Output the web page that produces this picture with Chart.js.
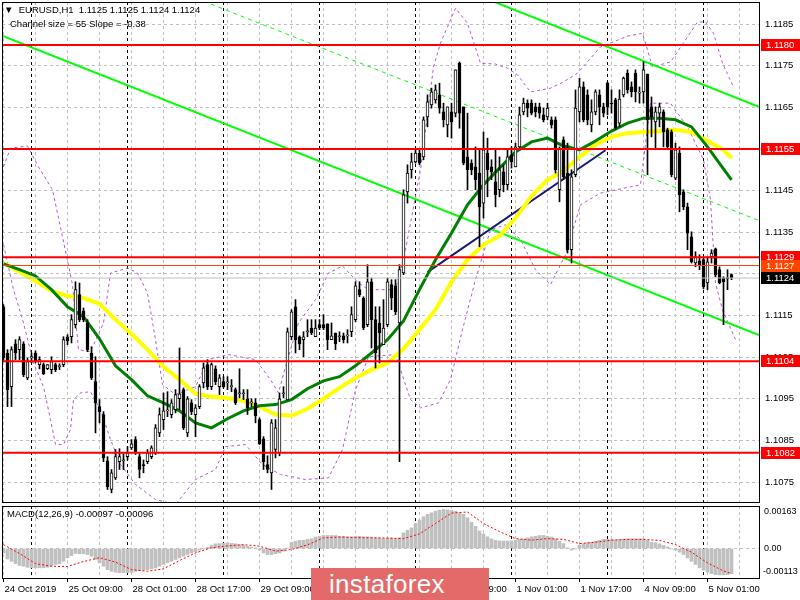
<!DOCTYPE html>
<html>
<head>
<meta charset="utf-8">
<title>EURUSD H1</title>
<script src="https://cdn.jsdelivr.net/npm/chart.js@4.4.0/dist/chart.umd.min.js"></script>
<style>
  body { margin: 0; width: 800px; height: 600px; position: relative; overflow: hidden; background: #fff; font-family: 'Liberation Sans', Arial, sans-serif; }
  canvas { position: absolute; left: 0; }
  #main { top: 0; }
  #macd { top: 490px; }
  .txt { position: absolute; font-size: 9.5px; color: #000; white-space: pre; line-height: 12px; }
  #logo { position: absolute; left: 311px; top: 568px; width: 178px; height: 32px; background: #e46a6a; color: #fff;
          font-size: 26px; line-height: 32px; padding-left: 18px; box-sizing: border-box; letter-spacing: 0.3px; }
</style>
</head>
<body>
<canvas id="main" width="800" height="505"></canvas>
<canvas id="macd" width="800" height="110"></canvas>
<div class="txt" style="left:4px;top:4px">▼  EURUSD,H1  1.1125 1.1125 1.1124 1.1124</div>
<div class="txt" style="left:10px;top:18px">Channel size = 55 Slope = -0.38</div>
<div class="txt" style="left:7px;top:508px">MACD(12,26,9) -0.00097 -0.00096</div>
<div id="logo">instaforex</div>
<script>
// time axis: bar 0 = 24 Oct 17:00, one bar per hour (weekend skipped)
const labelBars = [0, 16, 32, 48, 64, 80, 96, 112, 128, 144, 160, 176];
const labelTexts = ['24 Oct 2019', '25 Oct 09:00', '28 Oct 01:00', '28 Oct 17:00', '29 Oct 09:00', '30 Oct 01:00',
  '30 Oct 17:00', '31 Oct 09:00', '1 Nov 01:00', '1 Nov 17:00', '4 Nov 09:00', '5 Nov 01:00'];
const dayStartBars = [7, 31, 55, 79, 103, 127, 151, 175];
const priceTicks = [1.1075, 1.1085, 1.1095, 1.1105, 1.1115, 1.1125, 1.1135, 1.1145, 1.1155, 1.1165, 1.1175, 1.1185];
const macdTicks = [-0.00113, 0, 0.00163];

const open = [
  1.11171, 1.11060, 1.10979, 1.11082, 1.11068, 1.11082, 1.11000, 1.11048, 1.11060, 1.11032,
  1.11032, 1.11022, 1.11020, 1.11032, 1.11027, 1.11032, 1.11099, 1.11099, 1.11128, 1.11200,
  1.11161, 1.11132, 1.11060, 1.10991, 1.10931, 1.10912, 1.10801, 1.10732, 1.10760, 1.10799,
  1.10801, 1.10811, 1.10832, 1.10852, 1.10811, 1.10792, 1.10799, 1.10811, 1.10820, 1.10868,
  1.10900, 1.10921, 1.10912, 1.10924, 1.10950, 1.10972, 1.10868, 1.10940, 1.10912, 1.10931,
  1.10988, 1.11032, 1.10979, 1.11022, 1.10979, 1.10991, 1.10988, 1.10979, 1.10972, 1.10962,
  1.10962, 1.10950, 1.10940, 1.10940, 1.10900, 1.10854, 1.10792, 1.10772, 1.10828, 1.10820,
  1.10962, 1.10947, 1.11099, 1.11171, 1.11099, 1.11092, 1.11111, 1.11120, 1.11099, 1.11128,
  1.11128, 1.11130, 1.11092, 1.11108, 1.11099, 1.11101, 1.11101, 1.11111, 1.11140, 1.11212,
  1.11192, 1.11128, 1.11231, 1.11140, 1.11132, 1.11080, 1.11128, 1.11224, 1.11221, 1.11132,
  1.11252, 1.11447, 1.11500, 1.11519, 1.11540, 1.11531, 1.11627, 1.11656, 1.11668, 1.11680,
  1.11639, 1.11608, 1.11639, 1.11636, 1.11756, 1.11651, 1.11531, 1.11516, 1.11507, 1.11492,
  1.11420, 1.11540, 1.11507, 1.11471, 1.11452, 1.11495, 1.11464, 1.11536, 1.11507, 1.11555,
  1.11639, 1.11660, 1.11660, 1.11651, 1.11651, 1.11632, 1.11627, 1.11620, 1.11620, 1.11452,
  1.11572, 1.11492, 1.11308, 1.11488, 1.11639, 1.11699, 1.11680, 1.11608, 1.11639, 1.11680,
  1.11651, 1.11708, 1.11660, 1.11668, 1.11612, 1.11680, 1.11732, 1.11699, 1.11732, 1.11684,
  1.11687, 1.11730, 1.11651, 1.11615, 1.11636, 1.11639, 1.11596, 1.11591, 1.11480, 1.11540,
  1.11447, 1.11411, 1.11339, 1.11276, 1.11281, 1.11284, 1.11228, 1.11291, 1.11310, 1.11260,
  1.11240, 1.11240, 1.11248
];
const high = [
  1.11176, 1.11068, 1.11075, 1.11092, 1.11099, 1.11087, 1.11048, 1.11060, 1.11065, 1.11051,
  1.11036, 1.11032, 1.11051, 1.11036, 1.11034, 1.11099, 1.11104, 1.11152, 1.11231, 1.11228,
  1.11168, 1.11140, 1.11075, 1.11051, 1.10948, 1.10919, 1.10811, 1.10780, 1.10828, 1.10830,
  1.10820, 1.10835, 1.10852, 1.10859, 1.10820, 1.10803, 1.10828, 1.10837, 1.10888, 1.10928,
  1.10964, 1.10967, 1.10948, 1.10972, 1.11072, 1.10976, 1.10955, 1.10948, 1.10936, 1.10984,
  1.11036, 1.11044, 1.11036, 1.11029, 1.11008, 1.11003, 1.11003, 1.10996, 1.10976, 1.11022,
  1.10972, 1.10972, 1.10950, 1.10950, 1.10904, 1.10859, 1.10813, 1.10900, 1.10900, 1.10964,
  1.10979, 1.11120, 1.11164, 1.11188, 1.11101, 1.11111, 1.11140, 1.11140, 1.11140, 1.11140,
  1.11152, 1.11130, 1.11132, 1.11108, 1.11111, 1.11108, 1.11116, 1.11171, 1.11231, 1.11231,
  1.11195, 1.11272, 1.11240, 1.11171, 1.11171, 1.11188, 1.11240, 1.11236, 1.11236, 1.11272,
  1.11452, 1.11512, 1.11540, 1.11552, 1.11548, 1.11627, 1.11680, 1.11696, 1.11704, 1.11708,
  1.11660, 1.11651, 1.11660, 1.11740, 1.11759, 1.11651, 1.11636, 1.11524, 1.11555, 1.11548,
  1.11591, 1.11576, 1.11524, 1.11548, 1.11531, 1.11512, 1.11548, 1.11555, 1.11564, 1.11651,
  1.11672, 1.11668, 1.11668, 1.11660, 1.11660, 1.11648, 1.11660, 1.11627, 1.11627, 1.11555,
  1.11579, 1.11564, 1.11500, 1.11692, 1.11720, 1.11711, 1.11692, 1.11668, 1.11692, 1.11692,
  1.11660, 1.11711, 1.11692, 1.11672, 1.11692, 1.11723, 1.11740, 1.11711, 1.11740, 1.11699,
  1.11759, 1.11730, 1.11675, 1.11651, 1.11660, 1.11644, 1.11600, 1.11596, 1.11564, 1.11555,
  1.11452, 1.11420, 1.11351, 1.11303, 1.11296, 1.11288, 1.11291, 1.11308, 1.11312, 1.11267,
  1.11243, 1.11260, 1.11250
];
const low = [
  1.11039, 1.10931, 1.10931, 1.11044, 1.11044, 1.11003, 1.10996, 1.11036, 1.11036, 1.11022,
  1.11008, 1.11020, 1.11010, 1.11015, 1.11020, 1.11027, 1.11080, 1.11084, 1.11120, 1.11135,
  1.11135, 1.11063, 1.10996, 1.10868, 1.10892, 1.10799, 1.10732, 1.10724, 1.10756, 1.10780,
  1.10780, 1.10803, 1.10828, 1.10816, 1.10760, 1.10772, 1.10794, 1.10806, 1.10816, 1.10859,
  1.10876, 1.10907, 1.10904, 1.10916, 1.10924, 1.10876, 1.10859, 1.10912, 1.10859, 1.10926,
  1.10976, 1.10972, 1.10972, 1.10984, 1.10960, 1.10976, 1.10972, 1.10967, 1.10936, 1.10952,
  1.10948, 1.10912, 1.10931, 1.10892, 1.10840, 1.10780, 1.10772, 1.10732, 1.10808, 1.10813,
  1.10952, 1.10947, 1.11092, 1.11060, 1.11068, 1.11051, 1.11099, 1.11104, 1.11099, 1.11116,
  1.11116, 1.11068, 1.11092, 1.11068, 1.11087, 1.11084, 1.11084, 1.11099, 1.11135, 1.11195,
  1.11116, 1.11123, 1.11072, 1.11024, 1.11036, 1.11080, 1.11123, 1.11164, 1.11152, 1.10799,
  1.11248, 1.11420, 1.11480, 1.11516, 1.11512, 1.11524, 1.11603, 1.11648, 1.11660, 1.11636,
  1.11603, 1.11579, 1.11576, 1.11627, 1.11600, 1.11512, 1.11452, 1.11488, 1.11452, 1.11315,
  1.11384, 1.11435, 1.11476, 1.11411, 1.11435, 1.11447, 1.11452, 1.11504, 1.11507, 1.11548,
  1.11632, 1.11627, 1.11632, 1.11627, 1.11624, 1.11615, 1.11620, 1.11600, 1.11492, 1.11423,
  1.11476, 1.11300, 1.11276, 1.11483, 1.11615, 1.11615, 1.11608, 1.11591, 1.11632, 1.11608,
  1.11627, 1.11632, 1.11636, 1.11596, 1.11603, 1.11675, 1.11684, 1.11675, 1.11663, 1.11660,
  1.11660, 1.11488, 1.11579, 1.11548, 1.11603, 1.11555, 1.11548, 1.11483, 1.11476, 1.11399,
  1.11404, 1.11308, 1.11276, 1.11267, 1.11260, 1.11214, 1.11212, 1.11276, 1.11243, 1.11226,
  1.11128, 1.11212, 1.11236
];
const close = [
  1.11048, 1.10972, 1.11068, 1.11060, 1.11092, 1.11008, 1.11039, 1.11051, 1.11041, 1.11044,
  1.11010, 1.11032, 1.11039, 1.11020, 1.11027, 1.11092, 1.11089, 1.11140, 1.11212, 1.11140,
  1.11140, 1.11068, 1.11000, 1.10940, 1.10919, 1.10808, 1.10739, 1.10772, 1.10811, 1.10811,
  1.10801, 1.10820, 1.10842, 1.10820, 1.10780, 1.10789, 1.10820, 1.10832, 1.10880, 1.10912,
  1.10921, 1.10921, 1.10940, 1.10960, 1.10962, 1.10880, 1.10950, 1.10919, 1.10928, 1.10979,
  1.11024, 1.10979, 1.11032, 1.10991, 1.11000, 1.10979, 1.10988, 1.10979, 1.10940, 1.10964,
  1.10962, 1.10928, 1.10940, 1.10909, 1.10842, 1.10799, 1.10780, 1.10892, 1.10880, 1.10950,
  1.10962, 1.11111, 1.11159, 1.11092, 1.11082, 1.11099, 1.11111, 1.11108, 1.11120, 1.11120,
  1.11120, 1.11092, 1.11101, 1.11082, 1.11099, 1.11092, 1.11101, 1.11152, 1.11221, 1.11200,
  1.11120, 1.11231, 1.11140, 1.11060, 1.11108, 1.11120, 1.11231, 1.11192, 1.11159, 1.11260,
  1.11440, 1.11492, 1.11519, 1.11540, 1.11516, 1.11620, 1.11663, 1.11687, 1.11692, 1.11648,
  1.11620, 1.11651, 1.11615, 1.11740, 1.11636, 1.11516, 1.11500, 1.11500, 1.11476, 1.11411,
  1.11548, 1.11500, 1.11495, 1.11440, 1.11500, 1.11464, 1.11531, 1.11519, 1.11555, 1.11632,
  1.11660, 1.11648, 1.11636, 1.11639, 1.11636, 1.11620, 1.11648, 1.11608, 1.11500, 1.11552,
  1.11483, 1.11308, 1.11483, 1.11648, 1.11699, 1.11620, 1.11620, 1.11639, 1.11687, 1.11651,
  1.11636, 1.11651, 1.11658, 1.11600, 1.11670, 1.11720, 1.11692, 1.11687, 1.11687, 1.11684,
  1.11740, 1.11620, 1.11627, 1.11639, 1.11651, 1.11591, 1.11555, 1.11488, 1.11548, 1.11440,
  1.11411, 1.11348, 1.11279, 1.11291, 1.11272, 1.11219, 1.11279, 1.11300, 1.11248, 1.11228,
  1.11231, 1.11238, 1.11240
];

// moving averages every 4 bars
const maBars = [0, 4, 8, 12, 16, 20, 24, 28, 32, 36, 40, 44, 48, 52, 56, 60, 64, 68, 72, 76, 80, 84, 88, 92,
  96, 100, 104, 108, 112, 116, 120, 124, 128, 132, 136, 140, 144, 148, 152, 156, 160, 164, 168, 172, 176, 180, 182];
const maGreen = [1.11274, 1.11260, 1.11245, 1.11212, 1.11171, 1.11147, 1.11094, 1.11029, 1.10996, 1.10957,
  1.10940, 1.10921, 1.10892, 1.10880, 1.10902, 1.10921, 1.10933, 1.10936, 1.10948, 1.10974, 1.10993, 1.11003,
  1.11029, 1.11060, 1.11092, 1.11137, 1.11212, 1.11284, 1.11348, 1.11416, 1.11464, 1.11504, 1.11543, 1.11567,
  1.11576, 1.11557, 1.11548, 1.11569, 1.11593, 1.11612, 1.11624, 1.11624, 1.11620, 1.11603, 1.11555, 1.11502, 1.11476];
const maYellow = [1.11276, 1.11255, 1.11233, 1.11209, 1.11197, 1.11192, 1.11178, 1.11140, 1.11106, 1.11068,
  1.11027, 1.10996, 1.10962, 1.10955, 1.10952, 1.10945, 1.10931, 1.10912, 1.10909, 1.10926, 1.10950, 1.10976,
  1.11000, 1.11020, 1.11036, 1.11070, 1.11116, 1.11164, 1.11231, 1.11284, 1.11320, 1.11341, 1.11384, 1.11437,
  1.11476, 1.11497, 1.11531, 1.11560, 1.11579, 1.11588, 1.11591, 1.11593, 1.11596, 1.11591, 1.11569, 1.11548, 1.11528];

// envelope bands (dotted purple)
const bandUpperBars = [0, 1.75, 6, 8.75, 12.25, 14.75, 17.25, 18.75, 21.75, 25, 26.75, 31, 33.5, 36, 38, 39.75, 43, 48,
  51.25, 56.25, 63, 66.75, 68.75, 70.5, 73.75, 78, 81.25, 84.75, 88.75, 91.25, 98, 100.5, 104.25, 107.5, 109.25, 113,
  116, 119.25, 123, 126, 128.5, 131.75, 136.75, 140, 143.5, 149.25, 156, 159.75, 162.25, 166.75, 171, 173.5, 175.5,
  177.5, 179.75, 182.25];
const bandUpper = [1.11507, 1.11552, 1.11557, 1.11507, 1.11452, 1.11339, 1.11224, 1.11068, 1.11063, 1.11132, 1.11252,
  1.11264, 1.11252, 1.11204, 1.11092, 1.10984, 1.10960, 1.10979, 1.11044, 1.11056, 1.11044, 1.10996, 1.10964, 1.11027,
  1.11132, 1.11188, 1.11252, 1.11269, 1.11228, 1.11212, 1.11212, 1.11308, 1.11500, 1.11747, 1.11804, 1.11888, 1.11852,
  1.11756, 1.11754, 1.11744, 1.11728, 1.11687, 1.11696, 1.11711, 1.11732, 1.11795, 1.11821, 1.11828, 1.11747, 1.11759,
  1.11819, 1.11855, 1.11855, 1.11828, 1.11756, 1.11704];
const bandLowerBars = [0, 2.5, 5, 7.5, 10, 11.75, 13, 15, 16.75, 17.5, 19.25, 21.75, 24.25, 26.75, 29.25, 33, 38, 43, 48,
  53, 55.5, 60.5, 64.75, 69.25, 75.5, 81.25, 84.75, 88, 91.25, 98, 101.75, 104.25, 108.75, 111.75, 114.75, 118, 121.75,
  125.5, 129.25, 133, 136.75, 140.5, 144.25, 149.25, 156.75, 159.25, 161.75, 166.75, 171, 175, 176.75, 178, 179.75, 183];
const bandLower = [1.11320, 1.11212, 1.11132, 1.11036, 1.10979, 1.10900, 1.10840, 1.10840, 1.10876, 1.10948, 1.10964,
  1.10967, 1.10924, 1.10852, 1.10792, 1.10744, 1.10708, 1.10696, 1.10756, 1.10780, 1.10835, 1.10840, 1.10792, 1.10768,
  1.10756, 1.10760, 1.10828, 1.10971, 1.11051, 1.11056, 1.10948, 1.10928, 1.10940, 1.10996, 1.11116, 1.11236, 1.11356,
  1.11368, 1.11332, 1.11260, 1.11224, 1.11296, 1.11416, 1.11444, 1.11459, 1.11464, 1.11660, 1.11660, 1.11603, 1.11524,
  1.11428, 1.11228, 1.11164, 1.11092];

// drawn objects
const channelBars = [-0.375, 188.875];
const channelLower = [1.11822, 1.11103];
const channelUpperBars = [122, 188.875];
const channelUpper = [1.11906, 1.11651];
const channelMidBars = [50, 188.875];
const channelMid = [1.11905, 1.11378];
const trendBars = [106, 150.5];
const trendLine = [1.11254, 1.11547];
const redLevels = [1.1180, 1.1155, 1.1129, 1.1104, 1.1082];
const orangeLevel = 1.1127;
const lastPrice = 1.1124;

// MACD(12,26,9)
const macdHist = [
  -0.00017, -0.00040, -0.00049, -0.00058, -0.00065, -0.00068, -0.00072, -0.00074, -0.00074, -0.00074,
  -0.00074, -0.00072, -0.00068, -0.00061, -0.00058, -0.00049, -0.00036, -0.00027, -0.00019, -0.00020,
  -0.00020, -0.00023, -0.00029, -0.00042, -0.00055, -0.00068, -0.00081, -0.00087, -0.00091, -0.00093,
  -0.00093, -0.00093, -0.00091, -0.00087, -0.00084, -0.00083, -0.00081, -0.00078, -0.00074, -0.00068,
  -0.00061, -0.00055, -0.00049, -0.00042, -0.00036, -0.00029, -0.00023, -0.00017, -0.00013, -0.00006,
  -0.00001, 0.00005, 0.00012, 0.00018, 0.00019, 0.00020, 0.00022, 0.00020, 0.00018, 0.00015,
  0.00013, 0.00009, 0.00005, 0.00001, -0.00006, -0.00017, -0.00023, -0.00023, -0.00020, -0.00017,
  -0.00010, 0.00001, 0.00024, 0.00028, 0.00031, 0.00032, 0.00035, 0.00037, 0.00044, 0.00047,
  0.00050, 0.00050, 0.00050, 0.00050, 0.00047, 0.00047, 0.00045, 0.00045, 0.00047, 0.00047,
  0.00045, 0.00045, 0.00044, 0.00041, 0.00040, 0.00038, 0.00040, 0.00040, 0.00038, 0.00041,
  0.00060, 0.00070, 0.00079, 0.00096, 0.00109, 0.00122, 0.00131, 0.00137, 0.00143, 0.00147,
  0.00150, 0.00148, 0.00146, 0.00143, 0.00137, 0.00131, 0.00118, 0.00101, 0.00085, 0.00067,
  0.00056, 0.00045, 0.00037, 0.00031, 0.00029, 0.00029, 0.00029, 0.00029, 0.00032, 0.00035,
  0.00037, 0.00041, 0.00045, 0.00047, 0.00050, 0.00050, 0.00047, 0.00044, 0.00037, 0.00028,
  0.00019, 0.00003, -0.00006, -0.00001, 0.00012, 0.00019, 0.00022, 0.00024, 0.00028, 0.00032,
  0.00035, 0.00035, 0.00035, 0.00033, 0.00035, 0.00036, 0.00037, 0.00037, 0.00037, 0.00037,
  0.00037, 0.00032, 0.00024, 0.00022, 0.00018, 0.00012, 0.00006, -0.00001, -0.00006, -0.00014,
  -0.00023, -0.00036, -0.00049, -0.00061, -0.00074, -0.00083, -0.00091, -0.00096, -0.00100, -0.00101,
  -0.00101, -0.00100, -0.00097
];
const signalBars = [0, 4, 8, 12, 16, 20, 24, 28, 32, 36, 40, 44, 48, 52, 56, 60, 64, 68, 72, 76, 80, 84, 88, 92,
  96, 100, 104, 108, 112, 116, 120, 124, 128, 132, 136, 140, 144, 148, 152, 156, 160, 164, 168, 172, 176, 180, 182];
const macdSignal = [0.00015, -0.00019, -0.00058, -0.00068, -0.00069, -0.00050, -0.00035, -0.00052, -0.00081, -0.00087,
  -0.00078, -0.00046, -0.00017, 0.00003, 0.00010, 0.00015, 0.00009, -0.00010, -0.00004, 0.00014, 0.00041, 0.00044,
  0.00042, 0.00041, 0.00040, 0.00038, 0.00056, 0.00096, 0.00136, 0.00140, 0.00096, 0.00065, 0.00038, 0.00032,
  0.00038, 0.00035, 0.00019, 0.00024, 0.00032, 0.00035, 0.00035, 0.00031, 0.00015, -0.00014, -0.00055, -0.00086, -0.00096];

// ---- chart ----
const X_MIN = -0.375, X_MAX = 188.875;
const gridGray = '#c0c0c0';
const axisFont = { family: 'Liberation Sans', size: 9.5 };
const gridBars = [];
for (let b = 0; b <= 184; b += 8) gridBars.push(b);

function pts(xs, ys) {
  return xs.map((x, k) => ({ x: x, y: ys[k] }));
}
function lineSet(data, color, width, order, dash) {
  return { type: 'line', data: data, borderColor: color, borderWidth: width, borderDash: dash || [],
    pointRadius: 0, tension: 0, fill: false, order: order };
}
function hline(level, color, width, order) {
  return lineSet([{ x: X_MIN, y: level }, { x: X_MAX, y: level }], color, width, order);
}
// keep the plot area fixed: no extra room for the edge labels
function noPad(s) {
  s.paddingTop = 0; s.paddingBottom = 0; s.paddingLeft = 0; s.paddingRight = 0;
}

const barIdx = open.map((_, i) => i);
const bodyFill = barIdx.map(i => close[i] >= open[i] ? '#ffffff' : '#000000');

const framePlugin = {
  id: 'frame',
  afterDraw(chart) {
    const { ctx, chartArea: a } = chart;
    ctx.save();
    ctx.strokeStyle = '#000';
    ctx.lineWidth = 1;
    ctx.strokeRect(a.left + 0.5, a.top + 0.5, a.right - a.left, a.bottom - a.top);
    ctx.restore();
  }
};

const tagLevels = redLevels.concat([orangeLevel, lastPrice]);
const tagColors = redLevels.map(() => '#ff0000').concat(['#ff4500', '#000000']);
const tagPlugin = {
  id: 'tags',
  afterDraw(chart) {
    const ctx = chart.ctx;
    const y = chart.scales.y;
    ctx.save();
    ctx.font = '9.5px "Liberation Sans"';
    ctx.textBaseline = 'middle';
    tagLevels.forEach((lv, k) => {
      const py = Math.round(y.getPixelForValue(lv));
      ctx.fillStyle = tagColors[k];
      ctx.fillRect(761, py - 6, 39, 12);
      ctx.fillStyle = '#fff';
      ctx.fillText(lv.toFixed(4), 766, py);
    });
    ctx.restore();
  }
};

// MT4 prints the panel's max / min labels just inside the panel edges
const macdEdgeLabels = {
  id: 'edgeLabels',
  afterDraw(chart) {
    const ctx = chart.ctx;
    const y = chart.scales.y;
    ctx.save();
    ctx.font = '9px "Liberation Sans"';
    ctx.fillStyle = '#000';
    ctx.textBaseline = 'middle';
    ctx.fillText(y.max.toFixed(5), 764, y.getPixelForValue(y.max) + 6);
    ctx.fillText(y.min.toFixed(5), 763, y.getPixelForValue(y.min) - 6);
    ctx.restore();
  }
};

function timeScales(showLabels) {
  return {
    x: {
      type: 'linear', min: X_MIN, max: X_MAX, offset: false,
      afterBuildTicks: s => { s.ticks = gridBars.map(v => ({ value: v })); },
      ticks: {
        display: showLabels, autoSkip: false, maxRotation: 0, minRotation: 0, align: 'start', labelOffset: 1,
        padding: 2, color: '#000', font: axisFont,
        callback: v => { const k = labelBars.indexOf(v); return k >= 0 ? labelTexts[k] : ''; }
      },
      grid: { color: gridGray, offset: false, drawTicks: showLabels, tickLength: 4,
        tickColor: c => (c.tick && labelBars.indexOf(c.tick.value) >= 0) ? '#000' : 'rgba(0,0,0,0)' },
      border: { display: false, dash: [3, 3] },
      afterFit: s => { s.height = showLabels ? 22 : 0; noPad(s); }
    },
    days: {
      type: 'linear', position: 'top', min: X_MIN, max: X_MAX, offset: false,
      afterBuildTicks: s => { s.ticks = dayStartBars.map(v => ({ value: v })); },
      ticks: { display: false },
      grid: { color: '#000', drawTicks: false, offset: false },
      border: { display: false, dash: [3, 3] },
      afterFit: s => { s.height = 0; noPad(s); }
    }
  };
}

const mainScales = timeScales(false);
mainScales.y = {
  type: 'linear', position: 'right', min: 1.10702, max: 1.11903, beginAtZero: false, bounds: 'data',
  afterBuildTicks: s => { s.ticks = priceTicks.map(v => ({ value: v })); },
  afterFit: s => { s.width = 41; noPad(s); },
  ticks: { color: '#000', font: axisFont, padding: 6, callback: v => v.toFixed(4) },
  grid: { color: gridGray, drawTicks: false },
  border: { display: true, color: '#000', dash: [3, 3] }
};

new Chart(document.getElementById('main'), {
  type: 'line',
  data: {
    datasets: [
      lineSet(pts(bandUpperBars, bandUpper), '#b455dc', 1, 30, [3, 3]),
      lineSet(pts(bandLowerBars, bandLower), '#b455dc', 1, 30, [3, 3]),
      lineSet(pts(channelBars, channelLower), '#00ff00', 2, 25),
      lineSet(pts(channelUpperBars, channelUpper), '#00ff00', 2, 25),
      lineSet(pts(channelMidBars, channelMid), '#00ff00', 1, 25, [4, 4]),
      lineSet(pts(trendBars, trendLine), '#191970', 2, 24),
      lineSet(pts(maBars, maYellow), '#ffff00', 4, 21),
      lineSet(pts(maBars, maGreen), '#008000', 3, 20),
      { type: 'bar', data: barIdx.map(i => ({ x: i, y: [low[i], high[i]] })), backgroundColor: '#000',
        borderWidth: 0, barThickness: 1, grouped: false, order: 12 },
      { type: 'bar', data: barIdx.map(i => ({ x: i, y: [open[i], close[i]] })), backgroundColor: bodyFill,
        borderColor: '#000', borderWidth: 1, borderSkipped: false, barThickness: 3, minBarLength: 1,
        grouped: false, order: 11 },
      hline(lastPrice, '#c0c0c0', 1, 5),
      hline(orangeLevel, '#ff4500', 1, 4),
      ...redLevels.map(lv => hline(lv, '#ff0000', 2, 3))
    ]
  },
  options: {
    responsive: false, animation: false, events: [],
    layout: { padding: { left: 2, top: 2, right: 0, bottom: 3 } },
    plugins: { legend: { display: false }, tooltip: { enabled: false } },
    scales: mainScales
  },
  plugins: [framePlugin, tagPlugin]
});

const macdScales = timeScales(true);
macdScales.y = {
  type: 'linear', position: 'right', min: macdTicks[0], max: macdTicks[2], beginAtZero: false, bounds: 'data',
  afterBuildTicks: s => { s.ticks = macdTicks.map(v => ({ value: v })); },
  afterFit: s => { s.width = 41; noPad(s); },
  ticks: { color: '#000', font: { family: 'Liberation Sans', size: 9 }, padding: 5,
    callback: v => v === 0 ? '0.00' : '' },
  grid: { drawTicks: false, color: c => (c.tick && c.tick.value === 0) ? gridGray : 'rgba(0,0,0,0)' },
  border: { display: true, color: '#000', dash: [3, 3] }
};

new Chart(document.getElementById('macd'), {
  type: 'line',
  data: {
    datasets: [
      { type: 'bar', data: barIdx.map(i => ({ x: i, y: macdHist[i] })), backgroundColor: '#c0c0c0',
        borderWidth: 0, barThickness: 3, grouped: false, order: 5 },
      lineSet(pts(signalBars, macdSignal), '#ff0000', 1, 1, [2, 2])
    ]
  },
  options: {
    responsive: false, animation: false, events: [],
    layout: { padding: { left: 2, top: 16, right: 0, bottom: 0 } },
    plugins: { legend: { display: false }, tooltip: { enabled: false } },
    scales: macdScales
  },
  plugins: [framePlugin, macdEdgeLabels]
});
</script>
</body>
</html>
